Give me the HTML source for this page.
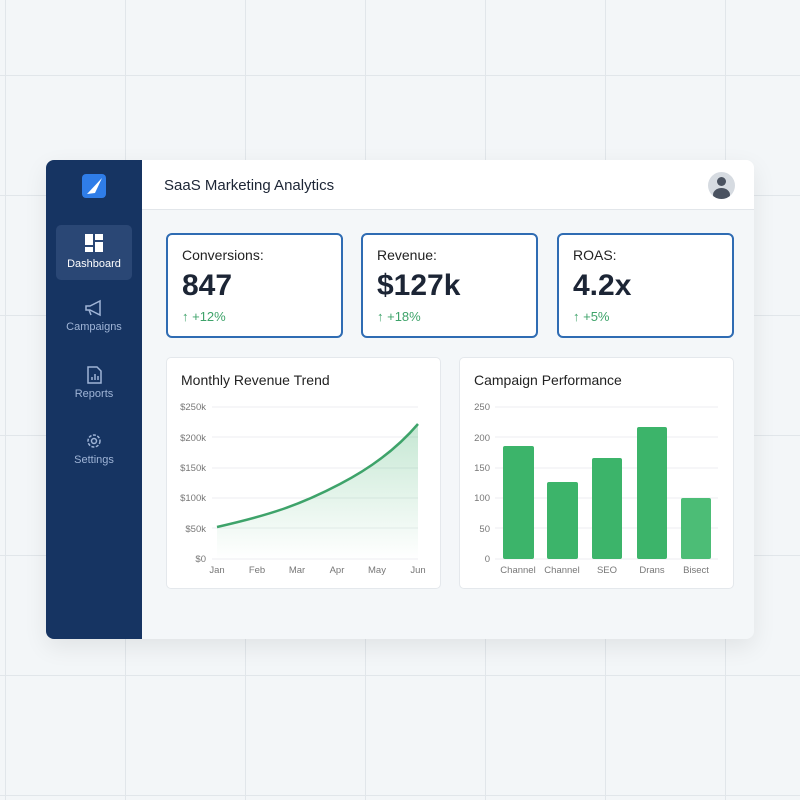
<!DOCTYPE html>
<html><head><meta charset="utf-8"><style>
*{margin:0;padding:0;box-sizing:border-box}
body{width:800px;height:800px;overflow:hidden;font-family:"Liberation Sans",sans-serif;
background-color:#f3f6f8;
background-image:linear-gradient(to right,#e1e6ea 1px,transparent 1px),linear-gradient(to bottom,#e1e6ea 1px,transparent 1px);
background-size:120px 120px;background-position:5px 75px;position:relative}
.abs{position:absolute}
.app{left:46px;top:160px;width:708px;height:479px;border-radius:8px;overflow:hidden;background:#f4f7f9;box-shadow:0 8px 24px rgba(0,0,0,.08)}
.side{left:0;top:0;width:96px;height:479px;background:#163462}
.hdr{left:96px;top:0;width:612px;height:50px;background:#fff;border-bottom:1px solid #e2e6ea}
.kpi{top:73px;width:177px;height:105px;background:#fff;border:2.5px solid #2f6cb3;border-radius:6px;padding:12px 14px}
.kpi .l{font-size:14px;color:#222}
.kpi .v{font-size:30px;font-weight:bold;color:#1c2535;margin-top:6px}
.kpi .c{font-size:13px;color:#3ea36a;margin-top:6px}
.card{top:197px;height:232px;background:#fff;border:1px solid #e4e8ec;border-radius:5px}
.card .t{position:absolute;left:14px;top:14px;font-size:14px;color:#222}
.nav{left:10px;width:76px;text-align:center;color:#9fb4d6;font-size:11px}
</style></head><body>
<div class="abs app">
 <div class="abs side">
  <div class="abs" style="left:36px;top:14px;width:24px;height:24px;background:#2f7de8;border-radius:4px">
   <svg width="24" height="24"><polygon points="5,20 20,4 13,19" fill="#fff"/></svg></div>
  <div class="abs nav" style="top:65px;height:55px;background:#2a4775;border-radius:5px;color:#fff">
   <svg width="20" height="20" style="margin-top:8px" fill="#fff"><rect x="1" y="1" width="8" height="11"/><rect x="11" y="1" width="8" height="6"/><rect x="11" y="9" width="8" height="10"/><rect x="1" y="14" width="8" height="5"/></svg>
   <div style="margin-top:2px">Dashboard</div></div>
  <div class="abs nav" style="top:138px"><svg width="20" height="20" fill="none" stroke="#9fb4d6" stroke-width="1.5"><path d="M2 8h4l10-5v14L6 12H2z M5 12l2 5"/></svg><div>Campaigns</div></div>
  <div class="abs nav" style="top:205px"><svg width="20" height="20" fill="none" stroke="#9fb4d6" stroke-width="1.5"><path d="M4 2h9l4 4v12H4z M8 15v-3 M11 15v-6 M14 15v-4"/></svg><div>Reports</div></div>
  <div class="abs nav" style="top:271px"><svg width="20" height="20" fill="none" stroke="#9fb4d6" stroke-width="1.5"><circle cx="10" cy="10" r="6" stroke-dasharray="3 1.5"/><circle cx="10" cy="10" r="2.5"/></svg><div>Settings</div></div>
 </div>
 <div class="abs hdr">
  <div class="abs" style="left:22px;top:17px;font-size:15px;color:#1c2535">SaaS Marketing Analytics</div>
  <div class="abs" style="left:566px;top:12px;width:27px;height:27px;border-radius:50%;background:#d6dbe1;overflow:hidden">
   <div class="abs" style="left:9px;top:5px;width:9px;height:9px;border-radius:50%;background:#4a5260"></div>
   <div class="abs" style="left:5px;top:16px;width:17px;height:14px;border-radius:50%;background:#4a5260"></div></div>
 </div>
 <div class="abs kpi" style="left:120px"><div class="l">Conversions:</div><div class="v">847</div><div class="c">↑ +12%</div></div>
 <div class="abs kpi" style="left:315px"><div class="l">Revenue:</div><div class="v">$127k</div><div class="c">↑ +18%</div></div>
 <div class="abs kpi" style="left:511px"><div class="l">ROAS:</div><div class="v">4.2x</div><div class="c">↑ +5%</div></div>
 <div class="abs card" style="left:120px;width:275px"><div class="t">Monthly Revenue Trend</div></div>
 <div class="abs card" style="left:413px;width:275px"><div class="t">Campaign Performance</div></div>
</div>
<svg class="abs" style="left:0;top:0" width="800" height="800" font-family="Liberation Sans,sans-serif" font-size="9.5" fill="#777">
 <defs><linearGradient id="g" x1="0" y1="0" x2="0" y2="1"><stop offset="0" stop-color="#3eb06c" stop-opacity=".3"/><stop offset="1" stop-color="#3eb06c" stop-opacity="0"/></linearGradient></defs>
 <g stroke="#eceef0">
  <line x1="212" x2="418" y1="407" y2="407"/><line x1="212" x2="418" y1="437" y2="437"/><line x1="212" x2="418" y1="468" y2="468"/><line x1="212" x2="418" y1="498" y2="498"/><line x1="212" x2="418" y1="528" y2="528"/><line x1="212" x2="418" y1="559" y2="559"/>
  <line x1="495" x2="718" y1="407" y2="407"/><line x1="495" x2="718" y1="437" y2="437"/><line x1="495" x2="718" y1="468" y2="468"/><line x1="495" x2="718" y1="498" y2="498"/><line x1="495" x2="718" y1="528" y2="528"/><line x1="495" x2="718" y1="559" y2="559"/>
 </g>
 <g text-anchor="end"><text x="206" y="410">$250k</text><text x="206" y="441">$200k</text><text x="206" y="471">$150k</text><text x="206" y="501">$100k</text><text x="206" y="532">$50k</text><text x="206" y="562">$0</text>
 <text x="490" y="410">250</text><text x="490" y="441">200</text><text x="490" y="471">150</text><text x="490" y="501">100</text><text x="490" y="532">50</text><text x="490" y="562">0</text></g>
 <path d="M217 527 C270 515 300 505 340 484 C375 466 400 445 418 424 L418 559 L217 559Z" fill="url(#g)"/>
 <path d="M217 527 C270 515 300 505 340 484 C375 466 400 445 418 424" fill="none" stroke="#3ea36a" stroke-width="2.5"/>
 <g text-anchor="middle"><text x="217" y="573">Jan</text><text x="257" y="573">Feb</text><text x="297" y="573">Mar</text><text x="337" y="573">Apr</text><text x="377" y="573">May</text><text x="418" y="573">Jun</text>
 <text x="518" y="573">Channel</text><text x="562" y="573">Channel</text><text x="607" y="573">SEO</text><text x="652" y="573">Drans</text><text x="696" y="573">Bisect</text></g>
 <g fill="#3cb46a"><rect x="503" y="446" width="31" height="113" rx="2"/><rect x="547" y="482" width="31" height="77" rx="2"/><rect x="592" y="458" width="30" height="101" rx="2"/><rect x="637" y="427" width="30" height="132" rx="2"/><rect x="681" y="498" width="30" height="61" rx="2" fill="#4cbd76"/></g>
</svg>
</body></html>
